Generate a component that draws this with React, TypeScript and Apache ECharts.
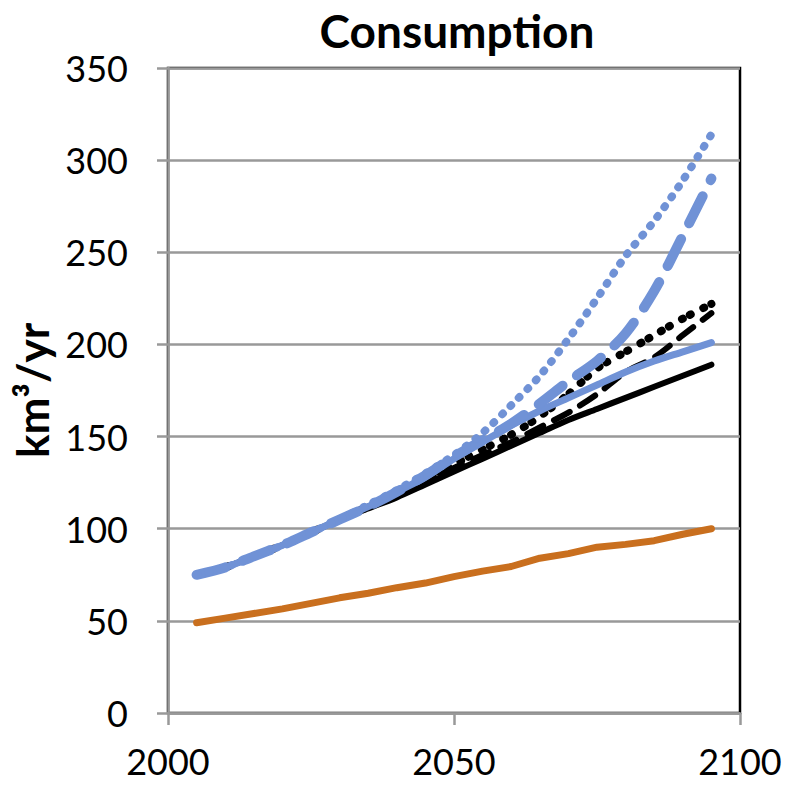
import React, { useEffect, useRef } from "react";
import * as echarts from "echarts";

const years = [2005, 2010, 2015, 2020, 2025, 2030, 2035, 2040, 2045, 2050, 2055, 2060, 2065, 2070, 2075, 2080, 2085, 2090, 2095];
const baseline = [49, 51.5, 54, 56.5, 59.5, 62.5, 65, 68, 70.5, 74, 77, 79.5, 84, 86.5, 90, 91.5, 93.5, 97, 100];
const blackSolid = [75, 79, 85, 91, 98, 105, 111, 117, 124, 131, 138, 145, 152, 159, 165, 171, 177, 183, 189];
const blackDashed = [75, 79, 85, 91, 98, 105, 112, 118, 125, 133, 140, 147, 155, 163, 173, 185, 193, 205, 217];
const blackDotted = [75, 79, 85, 91, 98, 105, 112, 119, 127, 135, 143, 151, 161, 173, 187, 196, 205, 214, 222];
const blueSolid = [75, 79, 85, 91, 98, 105, 112, 120, 128, 138, 147, 156, 164, 171, 178, 185, 191, 196, 201];
const blueDashed = [75, 79, 85, 91, 98, 105, 112, 120, 129, 139, 148, 157, 168, 180, 191, 206, 229, 259, 290];
const blueDotted = [75, 79, 85, 91, 98, 105, 113, 121, 130, 140, 152, 167, 183, 203, 225, 248, 267, 289, 314];
const yTicks = [0, 50, 100, 150, 200, 250, 300, 350];
const xTicks = [2000, 2050, 2100];

const BLUE = "#7092d6";
const ORANGE = "#c96f1e";
const FONT = "Lato";

const pairs = (vals: number[]) => years.map((y, i) => [y, vals[i]]);

export default function App() {
  const ref = useRef<HTMLDivElement>(null);
  useEffect(() => {
    if (!ref.current) return;
    const chart = echarts.init(ref.current, undefined, { renderer: "svg" });
    const mk = (name: string, vals: number[], color: string, width: number, type: any, smooth: number | boolean) => ({
      name,
      type: "line",
      data: pairs(vals),
      showSymbol: false,
      smooth,
      lineStyle: { color, width, type, cap: "round", join: "round" },
    });
    chart.setOption({
      animation: false,
      backgroundColor: "#fff",
      title: {
        text: "Consumption",
        left: 452,
        textAlign: "center",
        top: 2,
        textStyle: { fontFamily: FONT, fontWeight: "bold", fontSize: 46, color: "#000" },
      },
      grid: {
        left: 168,
        right: 54,
        top: 68,
        bottom: 75,
        show: true,
        borderColor: "#000",
        borderWidth: 2.5,
      },
      xAxis: {
        type: "value",
        min: xTicks[0],
        max: xTicks[xTicks.length - 1],
        interval: 50,
        axisLine: { lineStyle: { color: "#999", width: 2.5 } },
        axisTick: { show: true, length: 12, lineStyle: { color: "#999", width: 2.5 } },
        splitLine: { show: false },
        axisLabel: { fontFamily: FONT, fontSize: 36, color: "#000", margin: 30, formatter: (v: number) => String(v) },
      },
      yAxis: {
        type: "value",
        min: yTicks[0],
        max: yTicks[yTicks.length - 1],
        interval: 50,
        name: "km³/yr",
        nameLocation: "middle",
        nameGap: 112,
        nameTextStyle: { fontFamily: FONT, fontWeight: "bold", fontSize: 44, color: "#000" },
        axisLine: { show: true, lineStyle: { color: "#999", width: 2.5 } },
        axisTick: { show: true, length: 11, lineStyle: { color: "#999", width: 2.5 } },
        splitLine: { show: true, lineStyle: { color: "#999", width: 2.5 } },
        axisLabel: { fontFamily: FONT, fontSize: 36, color: "#000", margin: 40 },
      },
      series: [
        mk("baseline", baseline, ORANGE, 7, "solid", false),
        mk("black solid", blackSolid, "#000", 6, "solid", 0.3),
        mk("black dashed", blackDashed, "#000", 6, [18, 12], 0.3),
        mk("black dotted", blackDotted, "#000", 8, [1, 8, 1, 14], 0.3),
        mk("blue solid", blueSolid, BLUE, 7, "solid", 0.3),
        mk("blue dashed", blueDashed, BLUE, 10, [30, 18], 0.3),
        mk("blue dotted", blueDotted, BLUE, 8, [1, 11], 0.3),
      ],
    });
    return () => chart.dispose();
  }, []);
  return <div ref={ref} style={{ width: 794, height: 788, marginLeft: -8, marginTop: -8 }} />;
}
